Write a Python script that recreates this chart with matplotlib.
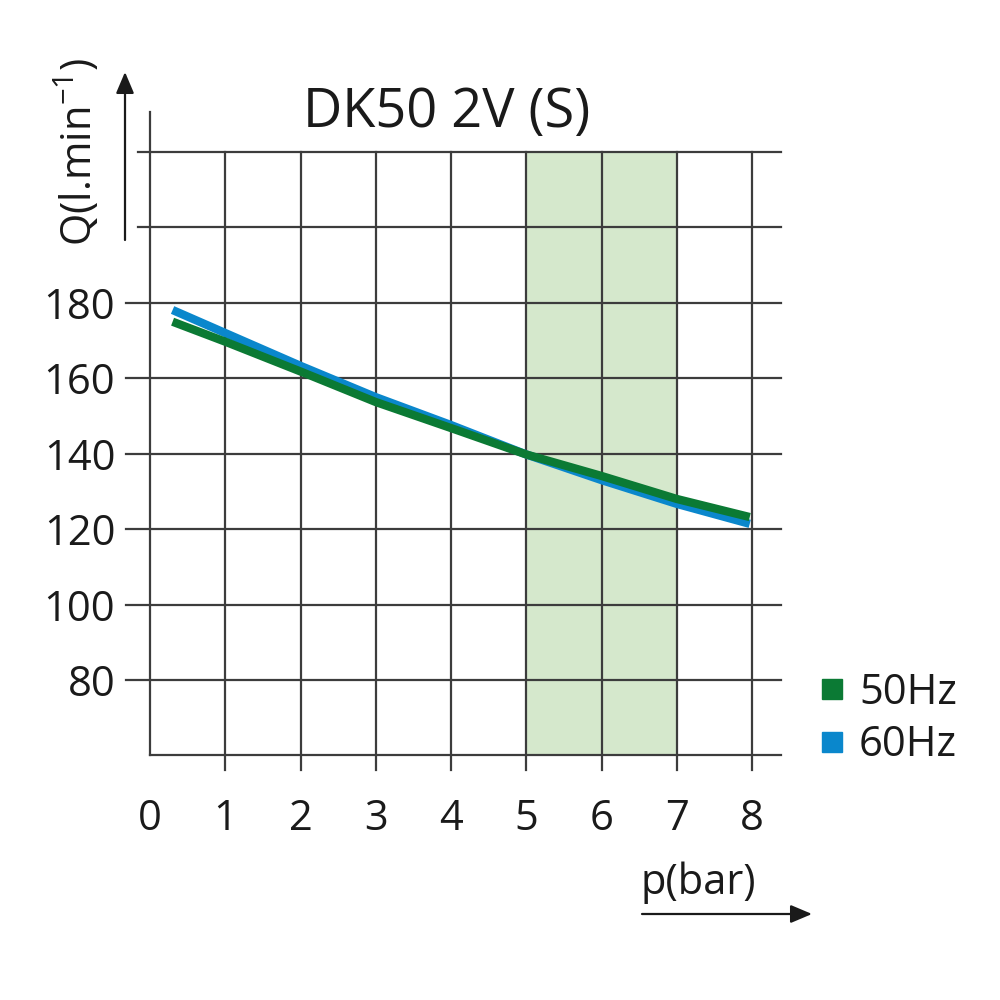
import matplotlib.pyplot as plt
from matplotlib.lines import Line2D

# pressure (bar) and flow Q (l/min)
p = [0.3, 1, 2, 3, 4, 5, 6, 7, 7.97]
q_50hz = [175.0, 169.7, 161.8, 153.7, 146.8, 139.8, 134.1, 128.0, 123.2]
q_60hz = [178.1, 172.0, 163.3, 155.0, 147.6, 139.8, 133.0, 126.7, 121.4]

x_ticks = [0, 1, 2, 3, 4, 5, 6, 7, 8]
y_ticks = [80, 100, 120, 140, 160, 180]
y_grid_extra = [200, 220]
zone = (5, 7)

green = '#0b7a34'
blue = '#0a87cc'
shade = '#d5e8cc'
grid_col = '#3c3c3c'

plt.rcParams['font.family'] = ['Open Sans', 'DejaVu Sans']
plt.rcParams['mathtext.fontset'] = 'custom'
plt.rcParams['mathtext.rm'] = 'Open Sans'
plt.rcParams['mathtext.it'] = 'Open Sans'

fig = plt.figure(figsize=(10, 10), dpi=100)
ax = fig.add_axes([0.150, 0.2446, 0.602, 0.6034])
ax.set_xlim(0, 8)
ax.set_ylim(60, 220)
for s in ax.spines.values():
    s.set_visible(False)

# recommended working zone
ax.fill_between(zone, 60, 220, color=shade, lw=0, zorder=0)

# grid drawn by hand, it runs past the axes like in the original
lw_g = 1.6
for y in y_ticks:
    ax.plot([-0.32, 8.39], [y, y], color=grid_col, lw=lw_g, clip_on=False, zorder=1)
for y in y_grid_extra:
    ax.plot([-0.16, 8.39], [y, y], color=grid_col, lw=lw_g, clip_on=False, zorder=1)
ax.plot([0, 8.39], [60, 60], color=grid_col, lw=lw_g, clip_on=False, zorder=1)
ax.plot([0, 0], [60, 230.6], color=grid_col, lw=lw_g, clip_on=False, zorder=1)
for x in x_ticks[1:]:
    ax.plot([x, x], [56.1, 220], color=grid_col, lw=lw_g, clip_on=False, zorder=1)

ax.plot(p, q_60hz, color=blue, lw=6, solid_capstyle='butt', zorder=3)
ax.plot(p, q_50hz, color=green, lw=6, solid_capstyle='butt', zorder=4)

ax.set_xticks(x_ticks)
ax.set_xticklabels([str(v) for v in x_ticks])
ax.set_yticks(y_ticks)
ax.set_yticklabels([str(v) for v in y_ticks])
ax.tick_params(axis='both', length=0, labelsize=30, colors='#1a1a1a')
ax.tick_params(axis='y', pad=25)
ax.tick_params(axis='x', pad=31)

fig.text(0.447, 0.888, 'DK50 2V (S)', ha='center', va='center',
         fontsize=39, fontweight='medium', color='#1a1a1a')

# axis arrows and their labels
arrow = dict(arrowstyle='-|>,head_length=1.3,head_width=0.55', color='#1a1a1a', lw=1.6,
             shrinkA=0, shrinkB=0)
ax.annotate('', xy=(125, 928), xytext=(125, 760), xycoords='figure pixels',
            textcoords='figure pixels', arrowprops=arrow)
ax.annotate('', xy=(812, 86), xytext=(642, 86), xycoords='figure pixels',
            textcoords='figure pixels', arrowprops=arrow)
fig.text(0.078, 0.848, r'Q(l.min$^{\mathregular{-1}}$)', rotation=90, ha='center',
         va='center', fontsize=30, color='#1a1a1a')
fig.text(0.641, 0.117, 'p(bar)', ha='left', va='center', fontsize=30, color='#1a1a1a')

handles = [Line2D([], [], marker='s', ls='none', ms=15, color=green),
           Line2D([], [], marker='s', ls='none', ms=15, color=blue)]
fig.legend(handles, ['50Hz', '60Hz'], loc='center left', bbox_to_anchor=(0.794, 0.281),
           frameon=False, fontsize=30, handlelength=0.8, handletextpad=0.26,
           labelspacing=0.25, borderpad=0, labelcolor='#1a1a1a')

fig.savefig('out.png', dpi=100)
